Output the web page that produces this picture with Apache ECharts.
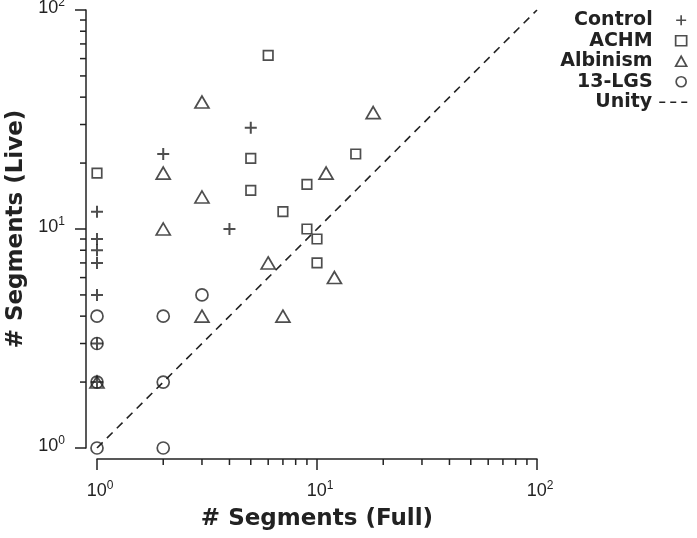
<!DOCTYPE html>
<html>
<head>
<meta charset="utf-8">
<script src="https://cdn.jsdelivr.net/npm/echarts@6/dist/echarts.min.js"></script>
<style>
  html, body { margin: 0; padding: 0; background: #fff; }
  #chart { width: 697px; height: 538px; }
</style>
</head>
<body>
<div id="chart"></div>
<script>
// data: [full, live] segment counts
const controlPts = [[1, 12], [1, 9], [1, 8], [1, 7], [1, 5], [1, 3], [1, 2], [2, 22], [4, 10], [5, 29]];
const achmPts = [[1, 18], [5, 21], [5, 15], [6, 62], [7, 12], [9, 16], [9, 10], [10, 9], [10, 7], [15, 22]];
const albinismPts = [[1, 2], [2, 18], [2, 10], [3, 38], [3, 14], [3, 4], [6, 7], [7, 4], [11, 18], [12, 6], [18, 34]];
const lgsPts = [[1, 1], [1, 2], [1, 3], [1, 4], [2, 1], [2, 2], [2, 4], [3, 5]];
const unityPts = [[1, 1], [100, 100]];

const axisMin = 1;
const axisMax = 100;
const minorTicks = [2, 3, 4, 5, 6, 7, 8, 9, 20, 30, 40, 50, 60, 70, 80, 90];

const ink = "#222";
const AXIS_OFFSET = 11;
const MINOR_LEN = 6;
const plusPath = "path://M5,0H7V5H12V7H7V12H5V7H0V5H5Z";

function tickLabel(v) {
  const e = Math.round(Math.log10(v));
  return "{b|10}{s|" + e + "}";
}

const labelRich = {
  b: { fontFamily: "Liberation Sans", fontSize: 18, lineHeight: 22, color: ink },
  s: { fontFamily: "Liberation Sans", fontSize: 12, verticalAlign: "top", color: ink }
};

const hollow = { color: "rgba(0,0,0,0)", borderColor: ink, borderWidth: 1.7 };

function minorTickSeries(dim) {
  return {
    type: "custom",
    silent: true,
    clip: false,
    data: minorTicks.map(v => (dim === "x" ? [v, axisMin] : [axisMin, v])),
    renderItem: function(params, api) {
      const p = api.coord([api.value(0), api.value(1)]);
      let shape;
      if (dim === "x") {
        const y0 = p[1] + AXIS_OFFSET;
        shape = { x1: p[0], y1: y0, x2: p[0], y2: y0 + MINOR_LEN };
      } else {
        const x0 = p[0] - AXIS_OFFSET;
        shape = { x1: x0, y1: p[1], x2: x0 - MINOR_LEN, y2: p[1] };
      }
      return { type: "line", shape: shape, style: { stroke: ink, lineWidth: 1.5 } };
    }
  };
}

function logAxis(name, nameGap, labelPad) {
  return {
    type: "log",
    logBase: 10,
    min: axisMin,
    max: axisMax,
    offset: AXIS_OFFSET,
    name: name,
    nameLocation: "middle",
    nameGap: nameGap,
    nameTextStyle: { fontFamily: "DejaVu Sans", fontWeight: "bold", fontSize: 23, color: ink },
    axisLine: { show: true, lineStyle: { color: ink, width: 1.5 } },
    axisTick: { show: true, inside: false, length: 11, lineStyle: { color: ink, width: 1.5 } },
    axisLabel: { margin: 21, padding: labelPad, formatter: tickLabel, rich: labelRich },
    splitLine: { show: false }
  };
}

const legendText = { fontFamily: "DejaVu Sans", fontWeight: "bold", fontSize: 19, color: ink, lineHeight: 20.5 };

function init(myChart) {
  const option = {
    backgroundColor: "#fff",
    animation: false,
    grid: { left: 97, right: 160, top: 10, bottom: 90, containLabel: false, outerBoundsMode: "none" },
    xAxis: logAxis("# Segments (Full)", 49, [0, 0, 0, 6]),
    yAxis: logAxis("# Segments (Live)", 58, [0, 0, 4, 0]),
    legend: [
      {
        orient: "vertical",
        right: 9.5,
        top: 10,
        padding: 0,
        align: "right",
        itemWidth: 11,
        itemHeight: 10,
        itemGap: 0,
        textStyle: Object.assign({ padding: [0, 18, 0, 0] }, legendText),
        data: [
          { name: "Control", icon: plusPath, itemStyle: { color: ink, borderWidth: 0 } },
          { name: "ACHM", icon: "rect", itemStyle: hollow },
          { name: "Albinism", icon: "triangle", itemStyle: hollow },
          { name: "13-LGS", icon: "circle", itemStyle: hollow }
        ]
      },
      {
        orient: "vertical",
        right: 9,
        top: 92,
        padding: 0,
        align: "right",
        itemWidth: 28,
        itemHeight: 10,
        textStyle: Object.assign({ padding: [0, 2, 0, 0] }, legendText),
        lineStyle: { color: ink, width: 1.5, type: [6, 5] },
        itemStyle: { color: "rgba(0,0,0,0)", borderWidth: 0, borderColor: "rgba(0,0,0,0)" },
        data: ["Unity"]
      }
    ],
    series: [
      {
        name: "Unity",
        type: "line",
        data: unityPts,
        symbol: "none",
        lineStyle: { color: ink, width: 1.6, type: [8, 6] },
        itemStyle: { color: ink },
        z: 1
      },
      {
        name: "13-LGS",
        type: "scatter",
        data: lgsPts,
        symbol: "circle",
        symbolSize: 12,
        itemStyle: hollow
      },
      {
        name: "ACHM",
        type: "scatter",
        data: achmPts,
        symbol: "rect",
        symbolSize: 9.5,
        itemStyle: hollow
      },
      {
        name: "Albinism",
        type: "scatter",
        data: albinismPts,
        symbol: "triangle",
        symbolSize: [14, 12],
        itemStyle: hollow
      },
      {
        name: "Control",
        type: "scatter",
        data: controlPts,
        symbol: plusPath,
        symbolSize: 12,
        itemStyle: { color: ink, borderWidth: 0 }
      },
      minorTickSeries("x"),
      minorTickSeries("y")
    ]
  };

  myChart.setOption(option);
}

const myChart = echarts.init(document.getElementById("chart"));
init(myChart);
</script>
</body>
</html>
